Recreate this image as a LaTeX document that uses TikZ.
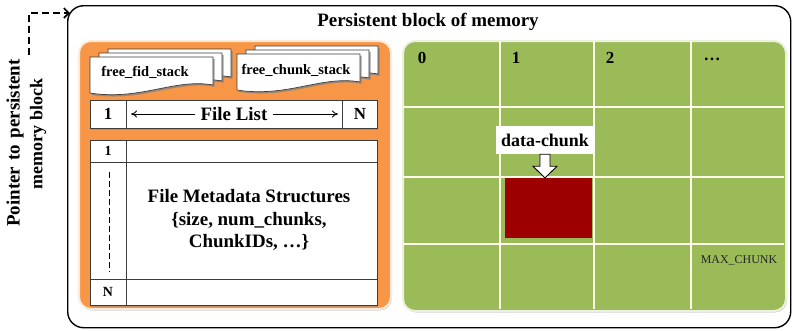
\documentclass[tikz,border=0pt]{standalone}
\usepackage{fontspec}
\setmainfont{Liberation Serif}
\usetikzlibrary{shadows,arrows.meta,calc}

\definecolor{panelorange}{HTML}{F79646}
\definecolor{panelgreen}{HTML}{9BBB59}
\definecolor{chunkred}{HTML}{9C0000}
\definecolor{rimline}{HTML}{3C3C3C}

\tikzset{
  boldtext/.style={font=\bfseries\fontsize{#1}{#1}\selectfont},
  panel/.style={rounded corners=12bp, line width=2bp, anchor=north west, inner sep=0pt,
    drop shadow={shadow xshift=1bp, shadow yshift=-1.5bp, opacity=0.35}},
  tablebox/.style={draw=rimline, fill=white, line width=0.9bp, anchor=north west, inner sep=0pt,
    drop shadow={shadow xshift=1bp, shadow yshift=-1.5bp, opacity=0.4}},
  divider/.style={draw=rimline, line width=0.9bp},
  gridline/.style={draw=white!92!yellow, line width=2.6bp},
  pointer/.style={line width=2.6bp, dash pattern=on 7bp off 4bp,
    -{Straight Barb[length=5bp,width=10bp,line width=1.6bp]}},
  listarrow/.style={line width=0.8bp, -{To[length=6bp,width=7bp]}},
  stacksheet/.style={draw=rimline, fill=white, line width=0.7bp,
    drop shadow={shadow xshift=1.6bp, shadow yshift=-1.8bp, opacity=0.75}},
  pics/docsheet/.style={code={
    \path[stacksheet] (0,0) -- (123,0) -- (123,28)
      .. controls (85,21) and (50,44) .. (0,36) -- cycle;
  }},
}

\begin{document}
\begin{tikzpicture}[x=1bp, y=-1bp]
\useasboundingbox (0,0) rectangle (792,330);

% outer persistent memory block
\node[draw, rounded corners=16bp, line width=1.4bp, anchor=north west, inner sep=0pt,
      minimum width=723bp, minimum height=322bp] (pmem) at (67,5) {};
\node[boldtext=19] (title) at (428,22) {Persistent block of memory};

% pointer into the block
\node[font={\bfseries\fontsize{19}{19}\selectfont\spaceskip=6.5bp}, rotate=90] (ptrA) at (15,143) {Pointer to persistent};
\node[boldtext=18, rotate=90] (ptrB) at (38,134) {memory block};
\coordinate (ptrstart) at (29,55);
\draw[pointer] (ptrstart) |- ([xshift=3bp, yshift=-8bp]pmem.north west);

% ---------------- metadata region ----------------
\node[panel, draw=white!80!panelorange, fill=panelorange,
      minimum width=312bp, minimum height=268bp] (metaregion) at (78,40) {};

% free fid stack
\pic at (108,49) {docsheet};
\pic at (99,53) {docsheet};
\pic at (90,57) {docsheet};
\node[boldtext=14.5] (fidstack) at (145,72) {free\_fid\_stack};

% free chunk stack
\pic at (255,46) {docsheet};
\pic at (246,50) {docsheet};
\pic at (237,54) {docsheet};
\node[boldtext=14.5] (chunkstack) at (296,70) {free\_chunk\_stack};

% file list
\node[tablebox, minimum width=287bp, minimum height=28bp] (filelist) at (90,100) {};
\draw[divider] (126,100) -- (126,128);
\draw[divider] (342,100) -- (342,128);
\node[boldtext=17] (flfirst) at (108,114) {1};
\node[boldtext=17] (fllast) at (360,114) {N};
\node[boldtext=19, inner sep=5bp] (fltext) at (234,114) {File List};
\coordinate (flleft) at (131,114);
\coordinate (flright) at (338,114);
\draw[listarrow] (fltext.west) -- (flleft);
\draw[listarrow] (fltext.east) -- (flright);

% file metadata table
\node[tablebox, minimum width=287bp, minimum height=165bp] (metatable) at (90,140) {};
\draw[divider] (90,162) -- (377,162);
\draw[divider] (90,279) -- (377,279);
\draw[divider] (126,140) -- (126,305);
\node[boldtext=14] (mfirst) at (108,151) {1};
\node[boldtext=14] (mlast) at (108,292) {N};
\coordinate (dashtop) at (109,172);
\coordinate (dashbot) at (109,272);
\draw[line width=0.8bp, dash pattern=on 6bp off 3bp] (dashtop) -- (dashbot);
\node[font=\bfseries\fontsize{19}{22.5}\selectfont, align=center] (metatext) at (249,220)
  {File Metadata Structures\\\{size, num\_chunks,\\ChunkIDs, \dots\}};

% ---------------- data chunk region ----------------
\node[panel, draw=white!80!panelgreen, fill=panelgreen,
      minimum width=383bp, minimum height=270bp] (dataregion) at (402,40) {};
\foreach \gx in {500,594,691} \draw[gridline] (\gx,41) -- (\gx,309);
\foreach \gy in {107,177,244} \draw[gridline] (403,\gy) -- (784,\gy);

\node[boldtext=17] (col0) at (422,58) {0};
\node[boldtext=17] (col1) at (516,58) {1};
\node[boldtext=17] (col2) at (610,58) {2};
\node[boldtext=17] (colmore) at (712,59) {\dots};
\node[font=\fontsize{12}{12}\selectfont, text=black!85] (maxchunk) at (739,260) {MAX\_CHUNK};

\node[fill=chunkred, anchor=north west, inner sep=0pt,
      minimum width=87bp, minimum height=60bp] (chunk) at (505,178) {};
\node[fill=white, boldtext=18, inner sep=0pt, minimum width=99bp, minimum height=28bp] (chunklabel) at (545,140) {data-chunk};
\draw[fill=white, line width=0.9bp]
  ($(chunklabel.south)+(-5,0)$) -- ++(0,12) -- ++(-7,0)
  -- (chunklabel.south |- chunk.north)
  -- ($(chunklabel.south)+(12,12)$) -- ++(-7,0) -- ++(0,-12) -- cycle;
\end{tikzpicture}
\end{document}
